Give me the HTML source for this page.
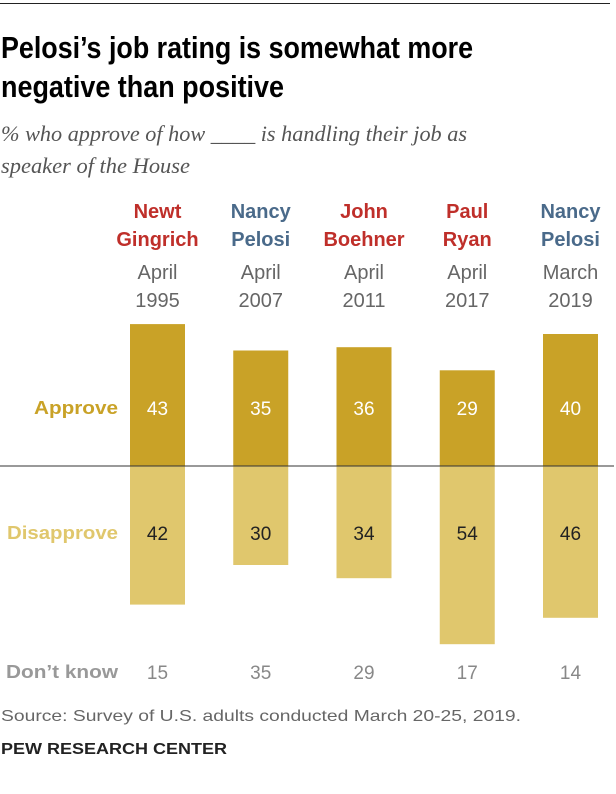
<!DOCTYPE html>
<html><head><meta charset="utf-8"><style>
body{margin:0;background:#fff;width:616px;height:794px;overflow:hidden}
svg{display:block;font-family:"Liberation Sans",sans-serif}
</style></head><body>
<svg width="616" height="794" viewBox="0 0 616 794" id="c">
<line x1="0" y1="3.5" x2="610" y2="3.5" stroke="#222" stroke-width="1"/>
<text x="1" y="58" font-size="31" font-weight="bold" fill="#000" textLength="472" lengthAdjust="spacingAndGlyphs">Pelosi’s job rating is somewhat more</text>
<text x="1" y="97" font-size="31" font-weight="bold" fill="#000" textLength="283" lengthAdjust="spacingAndGlyphs">negative than positive</text>
<text x="1" y="141" font-family="Liberation Serif,serif" font-style="italic" font-size="22" fill="#555" textLength="466" lengthAdjust="spacingAndGlyphs">% who approve of how ____ is handling their job as</text>
<text x="1" y="173" font-family="Liberation Serif,serif" font-style="italic" font-size="22" fill="#555" textLength="189" lengthAdjust="spacingAndGlyphs">speaker of the House</text>
<g id="bars"></g>
<text x="118" y="414" text-anchor="end" font-size="18" font-weight="bold" fill="#c9a227" textLength="84" lengthAdjust="spacingAndGlyphs">Approve</text>
<text x="118" y="539" text-anchor="end" font-size="18" font-weight="bold" fill="#e0c76d" textLength="111" lengthAdjust="spacingAndGlyphs">Disapprove</text>
<text x="118" y="678" text-anchor="end" font-size="18" font-weight="bold" fill="#999" textLength="112" lengthAdjust="spacingAndGlyphs">Don’t know</text>
<text x="1" y="721" font-size="16" fill="#666" textLength="520" lengthAdjust="spacingAndGlyphs">Source: Survey of U.S. adults conducted March 20-25, 2019.</text>
<text x="1" y="754" font-size="16" font-weight="bold" fill="#222" textLength="226" lengthAdjust="spacingAndGlyphs">PEW RESEARCH CENTER</text>
</svg>
<script>
const first=["Newt","Nancy","John","Paul","Nancy"];
const last=["Gingrich","Pelosi","Boehner","Ryan","Pelosi"];
const party=["R","D","R","R","D"];
const month=["April","April","April","April","March"];
const year=["1995","2007","2011","2017","2019"];
const approve=[43,35,36,29,40];
const disapprove=[42,30,34,54,46];
const dontKnow=[15,35,29,17,14];
const NS="http://www.w3.org/2000/svg";
const g=document.getElementById('bars');
const base=466, scale=3.3, bw=55;
const cx=i=>157.5+i*103.25;
const h=v=>v*scale;
function el(t,a,txt){const e=document.createElementNS(NS,t);for(const k in a)e.setAttribute(k,a[k]);if(txt!=null)e.textContent=txt;g.appendChild(e);return e;}
approve.forEach((v,i)=>{
 const x=cx(i);
 const col=party[i]=="R"?"#bf2f2a":"#4a6a8a";
 let t=el('text',{x:x,y:218,'text-anchor':'middle','font-size':20,'font-weight':'bold',fill:col},first[i]);
 
 
 t=el('text',{x:x,y:246,'text-anchor':'middle','font-size':20,'font-weight':'bold',fill:col},last[i]);
 
 
 t=el('text',{x:x,y:279,'text-anchor':'middle','font-size':20,fill:'#666'},month[i]);
 
 
 t=el('text',{x:x,y:307,'text-anchor':'middle','font-size':20,fill:'#666'},year[i]);
 
 
 let r=el('rect',{x:x-bw/2,y:base-h(v),width:bw,height:h(v),fill:'#c9a227'});
 
 
 r=el('rect',{x:x-bw/2,y:base,width:bw,height:h(disapprove[i]),fill:'#e0c76d'});
 
 
 t=el('text',{x:x,y:415,'text-anchor':'middle','font-size':19,fill:'#fff'},v);
 
 
 t=el('text',{x:x,y:540,'text-anchor':'middle','font-size':19,fill:'#222'},disapprove[i]);
 
 
 t=el('text',{x:x,y:679,'text-anchor':'middle','font-size':19,fill:'#888'},dontKnow[i]);
 
 
});
const l=el('line',{x1:0,y1:base,x2:614,y2:base,stroke:'#333','stroke-width':1});


</script>
</body></html>
